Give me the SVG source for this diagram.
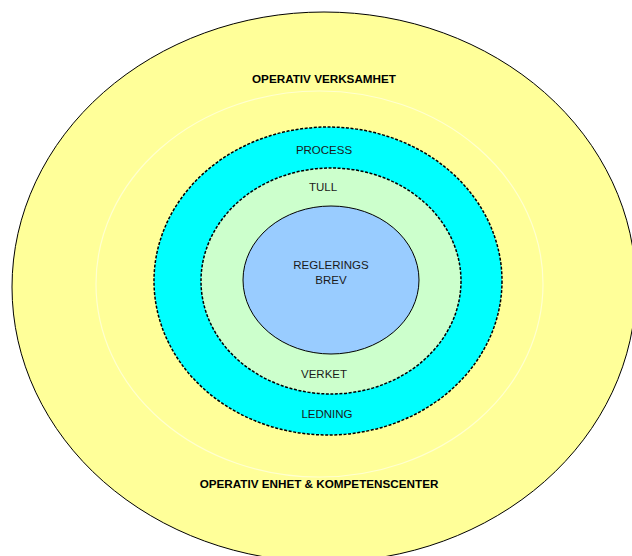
<svg xmlns="http://www.w3.org/2000/svg" width="632" height="556" viewBox="0 0 632 556">
<style>
text{font-family:"Liberation Sans",Arial,sans-serif;text-anchor:middle;fill:#1a1a1a;font-size:11.5px}
.b{font-weight:bold;font-size:11.7px;fill:#000}
.dash{stroke:#000;stroke-width:1.5;stroke-dasharray:3 1.6}
</style>
<rect width="632" height="556" fill="#fff"/>
<g id="operativ">
<ellipse cx="324" cy="287" rx="312" ry="275" fill="#ffff99" stroke="#000" stroke-width="1"/>
<ellipse cx="319.5" cy="284" rx="223.5" ry="193" fill="none" stroke="#ffffd0" stroke-width="1.2"/>
<text class="b" x="324" y="83">OPERATIV VERKSAMHET</text>
<text class="b" x="319" y="488">OPERATIV ENHET &amp; KOMPETENSCENTER</text>
</g>
<g id="process">
<ellipse class="dash" cx="328" cy="281" rx="174" ry="154" fill="#00ffff"/>
<text x="324" y="154">PROCESS</text>
<text x="327" y="418">LEDNING</text>
</g>
<g id="tull">
<ellipse class="dash" cx="331" cy="281" rx="130" ry="113" fill="#ccffcc"/>
<text x="323" y="191">TULL</text>
<text x="324" y="378">VERKET</text>
</g>
<g id="reglering">
<ellipse cx="331" cy="280" rx="88" ry="74" fill="#99ccff" stroke="#000" stroke-width="1"/>
<text x="331" y="269">REGLERINGS</text>
<text x="331" y="284">BREV</text>
</g>
<g id="connectors"/>
</svg>
